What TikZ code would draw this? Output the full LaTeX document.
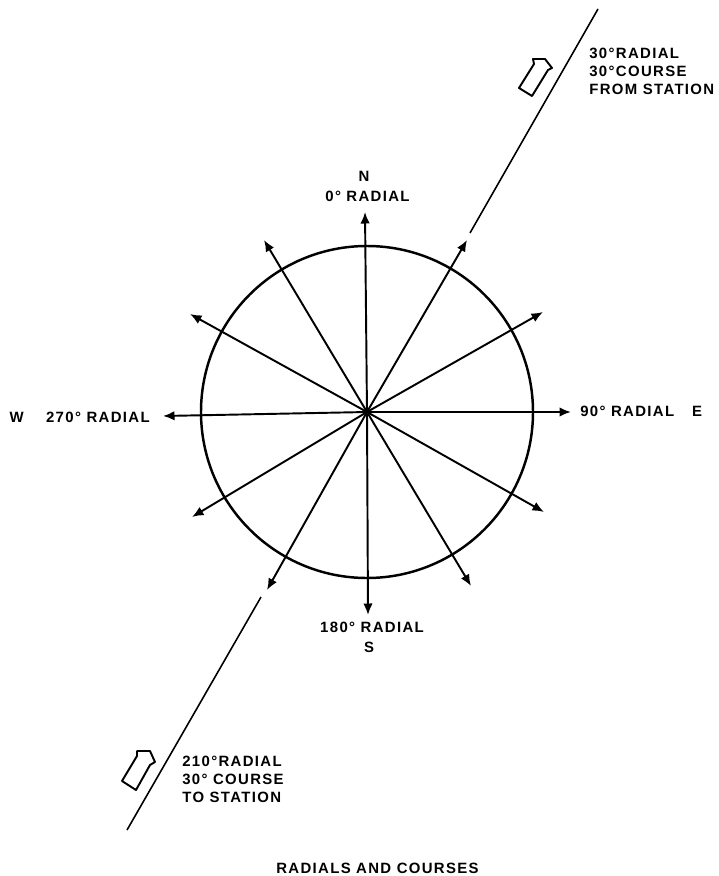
\documentclass[tikz,border=0pt]{standalone}
\usepackage{fontspec}
\newfontfamily\labelfont[LetterSpace=9]{Liberation Sans}
\usetikzlibrary{arrows.meta}
\tikzset{
  radial/.style={line width=1.1pt,-{Latex[length=2.3mm,width=1.9mm]}},
  course/.style={line width=0.9pt},
  flag/.style={line width=1.1pt,line join=round},
  lbl/.style={inner sep=0pt,font=\labelfont\bfseries\fontsize{8.5}{10.2}\selectfont,align=left}
}
\begin{document}
\begin{tikzpicture}[x=0.02cm,y=-0.02cm]
\useasboundingbox (0,0) rectangle (718,876);

\coordinate (centre) at (367,412);
\draw[line width=1.4pt] (centre) circle [radius=166];
\fill (centre) circle [radius=3];

% twelve radials
\foreach \name/\x/\y in {r0/365/212,r30/467/240,r60/543/312,r90/571/412,r120/544/512,r150/471/586,
  r180/368/615,r210/267/590,r240/192/517,r270/163/416,r300/190/314,r330/264/240}{
  \coordinate (\name) at (\x,\y);
  \draw[radial] (centre) -- (\name);
}

% course lines
\coordinate (fromA) at (470,233);
\coordinate (fromB) at (598,9);
\coordinate (toA) at (261,597);
\coordinate (toB) at (127,830);
\draw[course] (fromA) -- (fromB);
\draw[course] (toA) -- (toB);

% direction arrows
\draw[flag] (519,88) -- (532,96) -- (548,70) -- (552,68) -- (545,59) -- (533,59) -- (534,64) -- cycle;
\draw[flag] (122,781) -- (136,790) -- (150,765) -- (155,762) -- (150,751) -- (137,751) -- (137,756) -- cycle;

\node[lbl] (north) at (364,176) {N};
\node[lbl] (zero) at (367.5,196) {0° RADIAL};
\node[lbl,anchor=west] (east) at (580,411) {90° RADIAL\hspace{1.2em}E};
\node[lbl,anchor=east] (west) at (150,417) {W\hspace{1.5em}270° RADIAL};
\node[lbl] (oneeighty) at (372,627) {180° RADIAL};
\node[lbl] (south) at (369,647) {S};
\node[lbl,anchor=west] (from) at (589,71) {30°RADIAL\\30°COURSE\\FROM STATION};
\node[lbl,anchor=west] (to) at (182,779) {210°RADIAL\\30° COURSE\\TO STATION};
\node[lbl] (caption) at (377.5,868) {RADIALS AND COURSES};
\end{tikzpicture}
\end{document}
